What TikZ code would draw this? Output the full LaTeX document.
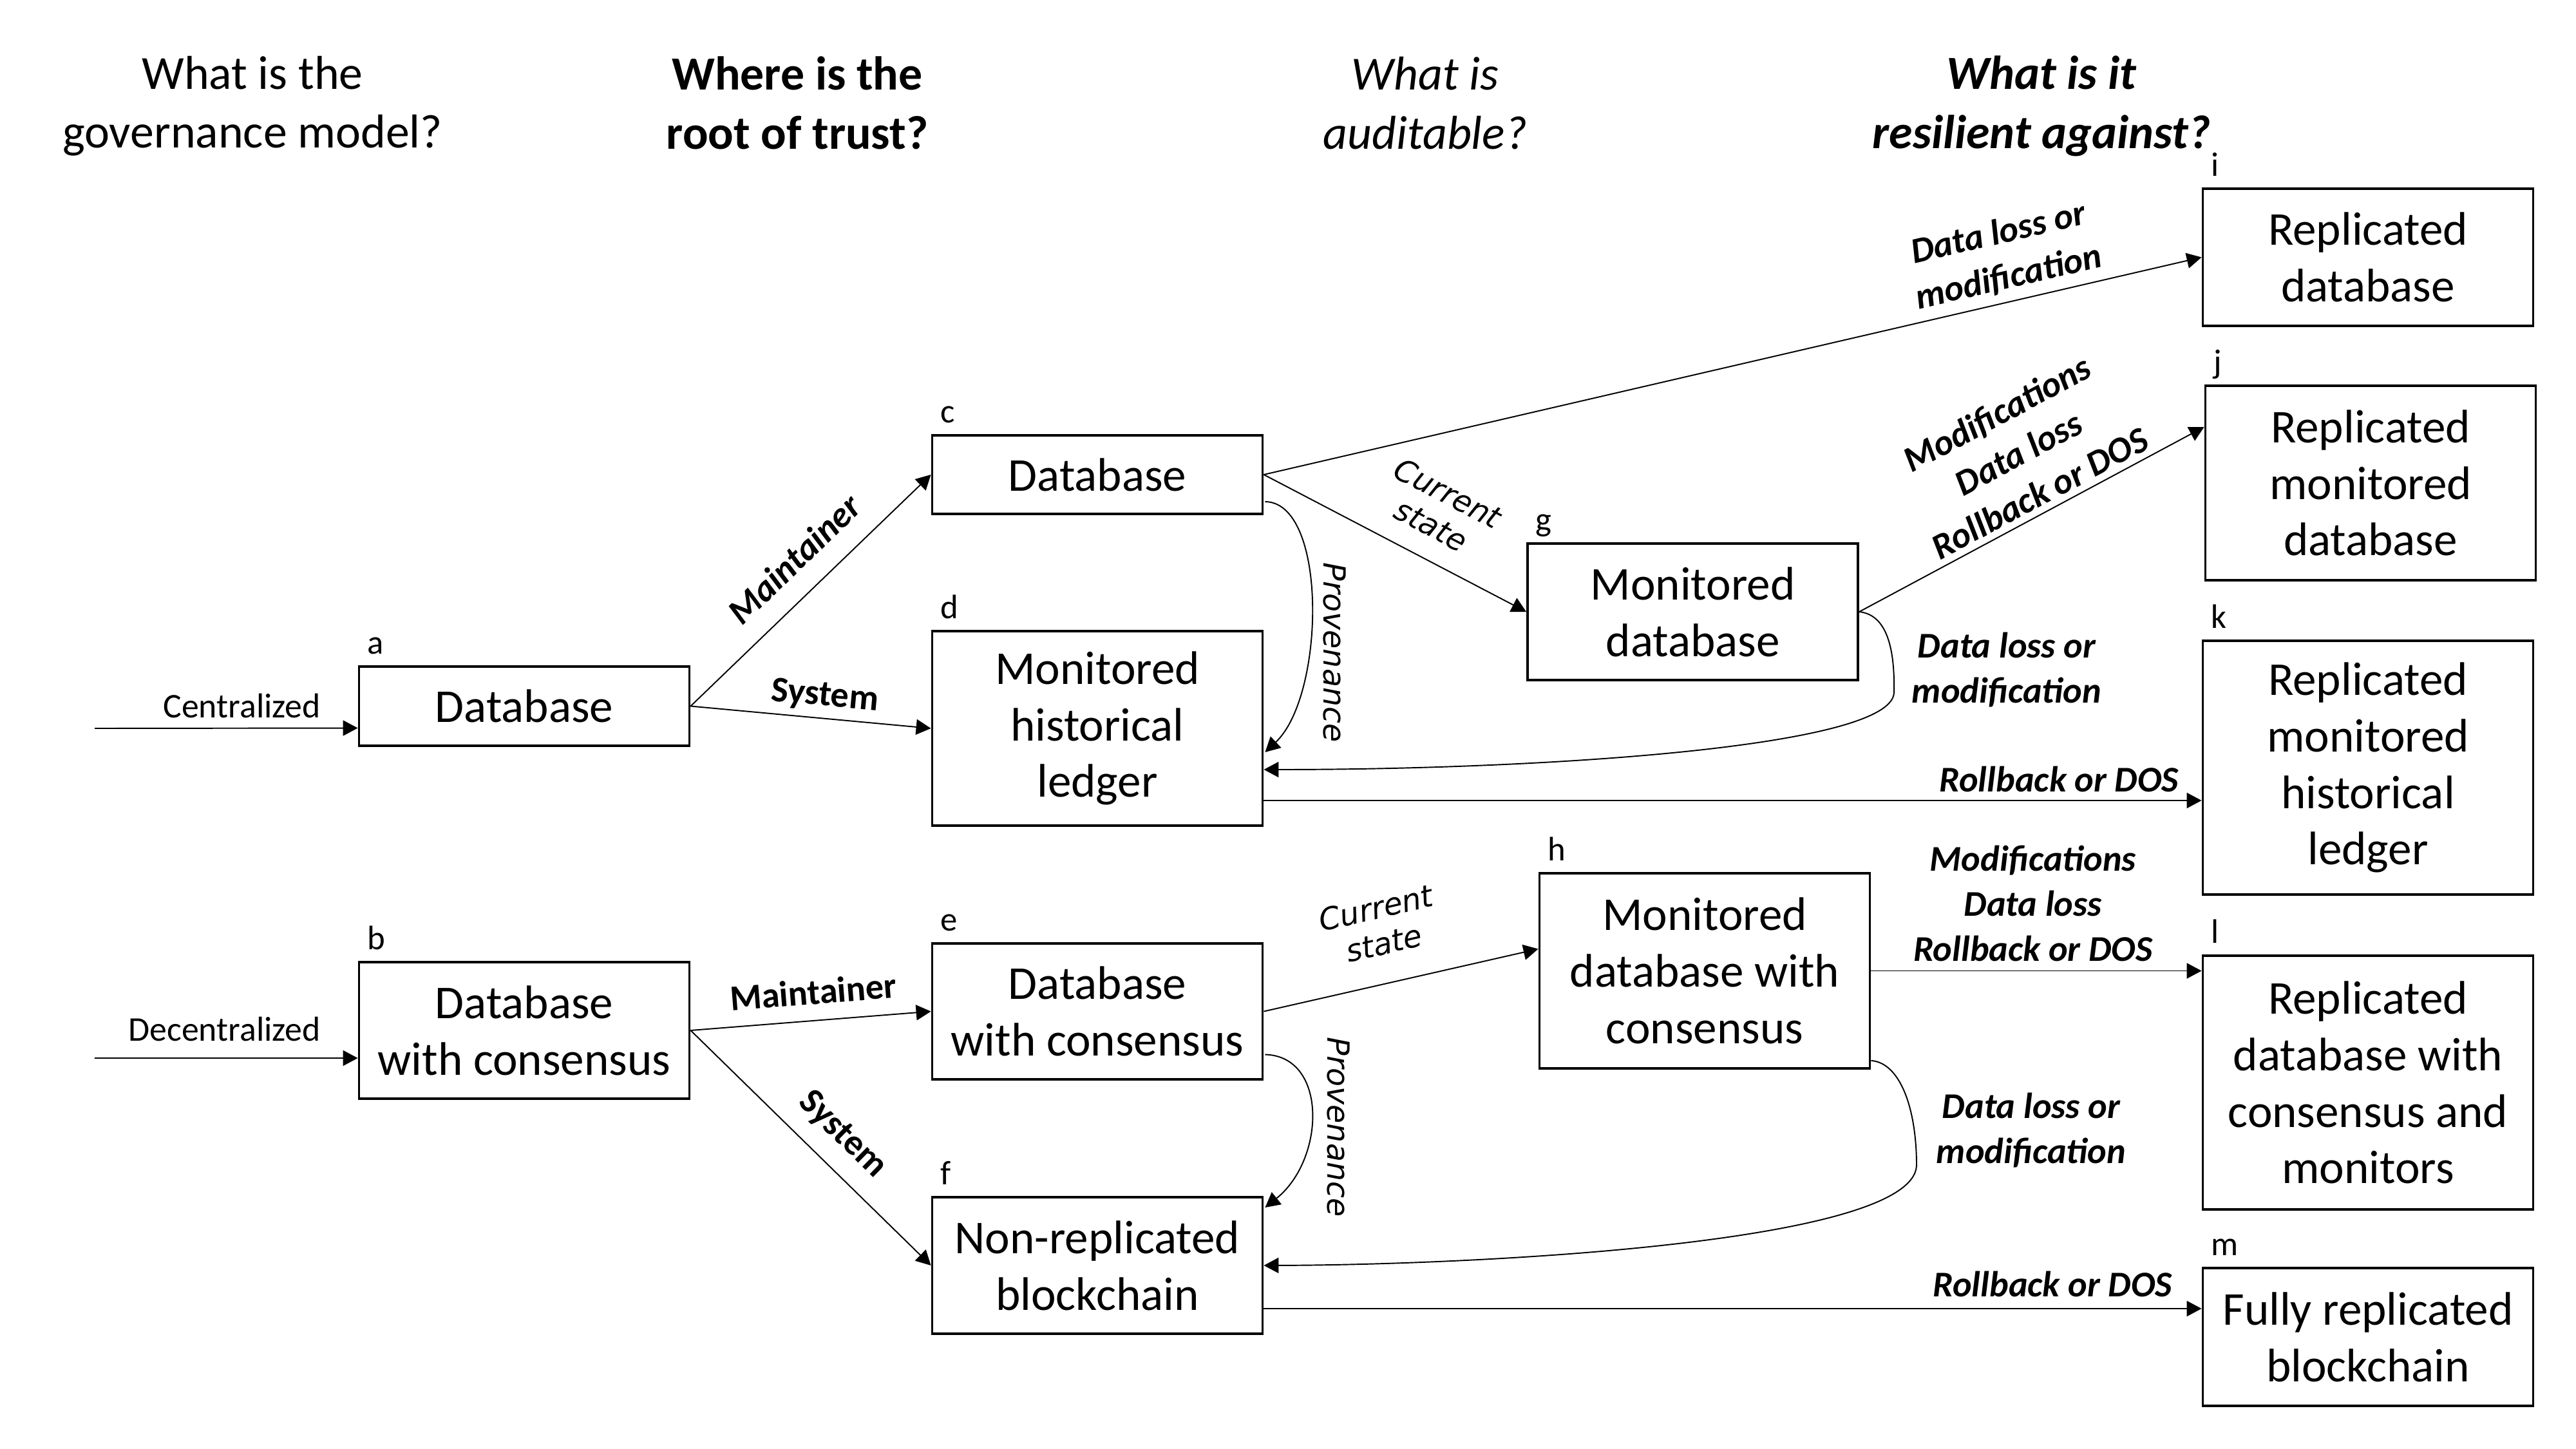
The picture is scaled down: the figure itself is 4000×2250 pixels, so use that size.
\documentclass[tikz,border=0pt]{standalone}
\usepackage{fontspec}
\setmainfont{Carlito}
\newfontfamily\dejavu{DejaVu Sans}[ItalicFont={DejaVu Sans Oblique}]
\usetikzlibrary{arrows.meta,calc}
\begin{document}
\begin{tikzpicture}[x=0.1mm, y=-0.1mm,
  box/.style={draw, line width=1.1pt, minimum width=5.13cm, inner sep=0pt, align=center, font=\fontsize{20.8}{25}\selectfont},
  head/.style={align=center, inner sep=0pt},
  lbl/.style={anchor=base west, inner sep=0pt, font=\fontsize{15}{18}\selectfont},
  conn/.style={line width=0.55pt, -{Triangle[length=2.3mm, width=2.4mm]}},
  elab/.style={align=center, inner sep=2pt, font=\fontsize{16}{20}\selectfont\bfseries\itshape},
  ebold/.style={align=center, inner sep=2pt, font=\fontsize{16}{20}\selectfont\bfseries},
  dlab/.style={align=center, inner sep=2pt, font=\fontsize{13.5}{16}\selectfont\dejavu\itshape},
  glab/.style={inner sep=2pt, font=\fontsize{15.3}{18}\selectfont},
]
\useasboundingbox (0,0) rectangle (4000,2250);
\fill[white] (0,0) rectangle (4000,2250);

% headings
\node[head, font=\fontsize{21}{26}\selectfont] (q1) at (392,165) {What is the\\governance model?};
\node[head, font=\fontsize{21}{26}\selectfont\bfseries] (q2) at (1238,160) {Where is the\\root of trust?};
\node[head, font=\fontsize{21}{26}\selectfont\itshape] (q3) at (2213,160) {What is\\auditable?};
\node[head, font=\fontsize{21}{26}\selectfont\bfseries\itshape] (q4) at (3170,165) {What is it\\resilient against?};

% boxes
\node[box, minimum height=1.23cm] (a) at (814,1096.5) {Database};
\node[box, minimum height=2.12cm] (b) at (814,1600) {Database\\with consensus};
\node[box, minimum height=1.22cm] (c) at (1704,737) {Database};
\node[box, minimum height=3.02cm] (d) at (1704,1131) {Monitored\\historical\\ledger};
\node[box, minimum height=2.11cm] (e) at (1704,1570.5) {Database\\with consensus};
\node[box, minimum height=2.12cm] (f) at (1704,1965) {Non-replicated\\blockchain};
\node[box, minimum height=2.12cm] (g) at (2628.5,950) {Monitored\\database};
\node[box, minimum height=3.03cm] (h) at (2647,1507.5) {Monitored\\database with\\consensus};
\node[box, minimum height=2.13cm] (i) at (3677,399.5) {Replicated\\database};
\node[box, minimum height=3.02cm] (j) at (3681,750) {Replicated\\monitored\\database};
\node[box, minimum height=3.94cm] (k) at (3677,1192) {Replicated\\monitored\\historical\\ledger};
\node[box, minimum height=3.94cm] (l) at (3677,1681) {Replicated\\database with\\consensus and\\monitors};
\node[box, minimum height=2.14cm] (m) at (3677,2076) {Fully replicated\\blockchain};

\foreach \n in {a,b,c,d,e,f,g,h,i,j,k,l,m}
  \node[lbl] (l\n) at ($(\n.north west)+(14,-18)$) {\n};

% inputs
\coordinate (s1) at (147,1131);
\coordinate (s2) at (147,1643);
\draw[conn] (s1) -- ($(a.west)+(0,34)$) node[glab, pos=0.878, anchor=south east, yshift=0.75mm] (tc) {Centralized};
\draw[conn] (s2) -- ($(b.west)+(0,43)$) node[glab, pos=0.878, anchor=south east, yshift=1.85mm] (td) {Decentralized};

% governance -> root of trust
\draw[conn] (a.east) -- (c.west) node[elab, sloped, above=2.5mm, pos=0.53] (t1) {Maintainer};
\draw[conn] (a.east) -- (d.west) node[ebold, sloped, above=0.3mm, pos=0.55] (t2) {System};
\draw[conn] (b.east) -- (e.west) node[ebold, sloped, above=1.7mm, pos=0.52] (t3) {Maintainer};
\draw[conn] (b.east) -- (f.west) node[ebold, sloped, above=1.8mm, pos=0.54] (t4) {System};

% upper branch
\draw[conn] (c.east) -- (i.west) node[elab, sloped, above=0.6mm, pos=0.80] (t5) {Data loss or\\modification};
\draw[conn] (c.east) -- (g.west) node[dlab, sloped, above=2.5mm, pos=0.58] (t6) {Current\\state};
\draw[conn] ($(c.east)+(2,42)$) .. controls (2062,780) and (2058,1080) .. ($(d.east)+(2,37)$);
\node[dlab, rotate=-90] (t7) at (2072,1013) {Provenance};
\draw[conn] (g.east) .. controls (2935,955) and (2942,1020) .. (2941,1075) .. controls (2940,1160) and (2400,1195) .. ($(d.east)+(0,64)$);
\node[elab] (t8) at (3116,1040) {Data loss or\\modification};
\draw[conn] (g.east) -- ($(j.west)+(0,-87)$) node[elab, sloped, above=0.25mm, pos=0.55] (t9) {Modifications\\Data loss\\Rollback or DOS};
\draw[conn] ($(d.east)+(0,112)$) -- ($(k.west)+(0,51)$) node[elab, above=0.5mm, pos=0.848] (t10) {Rollback or DOS};

% lower branch
\draw[conn] (e.east) -- ($(h.west)+(0,-34)$) node[dlab, sloped, above=3.6mm, pos=0.47] (t11) {Current\\state};
\draw[conn] ($(e.east)+(2,67)$) .. controls (2062,1640) and (2058,1800) .. ($(f.east)+(2,-90)$);
\node[dlab, rotate=-90] (t12) at (2078,1750) {Provenance};
\draw[conn] (h.east) -- (h.east -| l.west) node[elab, above=0.65mm, pos=0.49] (t13) {Modifications\\Data loss\\Rollback or DOS};
\draw[conn] ($(h.south east)+(0,-14)$) .. controls (2950,1650) and (2976,1720) .. (2976,1810) .. controls (2970,1930) and (2300,1964) .. (f.east);
\node[elab] (t14) at (3154,1755) {Data loss or\\modification};
\draw[conn] ($(f.east)+(0,67)$) -- ($(m.west)+(0,-44)$) node[elab, above=1mm, pos=0.841] (t15) {Rollback or DOS};
\end{tikzpicture}
\end{document}
